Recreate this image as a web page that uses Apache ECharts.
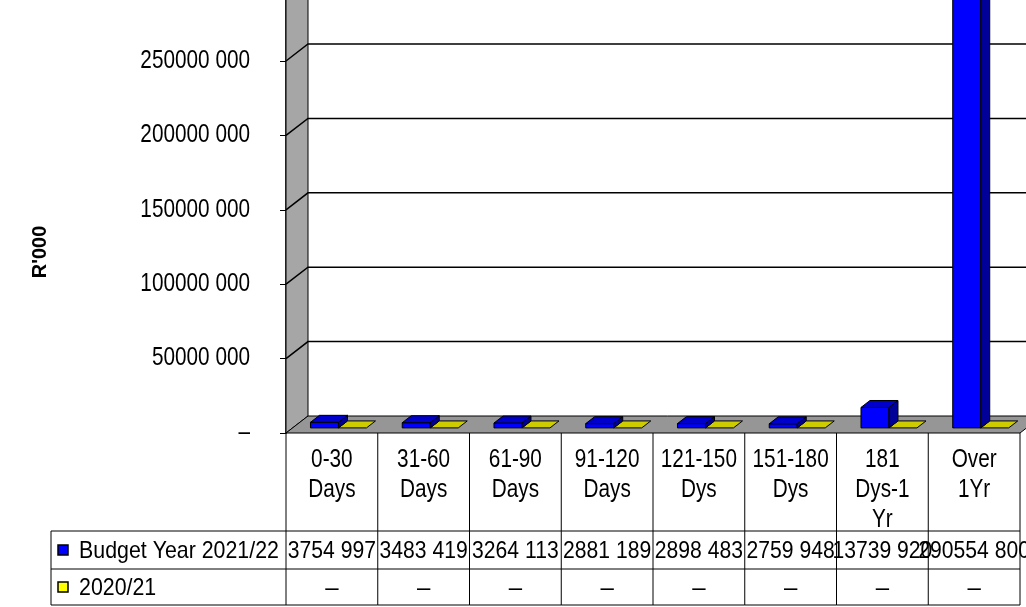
<!DOCTYPE html>
<html>
<head>
<meta charset="utf-8">
<script src="https://cdn.jsdelivr.net/npm/echarts@6/dist/echarts.min.js"></script>
<style>
  html, body { margin: 0; padding: 0; background: #fff; }
  #chart { width: 1026px; height: 607px; }
</style>
</head>
<body>
<div id="chart"></div>
<script>
// Debtor age analysis (R'000)
const categories = ['0-30\nDays', '31-60\nDays', '61-90\nDays', '91-120\nDays', '121-150\nDys', '151-180\nDys', '181\nDys-1\nYr', 'Over\n1Yr'];
const budget2122 = [3754997, 3483419, 3264113, 2881189, 2898483, 2759948, 13739920, 290554800];
const year2021 = [0, 0, 0, 0, 0, 0, 0, 0];
const seriesNames = ['Budget Year 2021/22', '2020/21'];
const yTicks = [0, 50000000, 100000000, 150000000, 200000000, 250000000, 300000000];
const yTickLabels = ['–', '50000 000', '100000 000', '150000 000', '200000 000', '250000 000', ''];
const yTitle = "R'000";

const FONT = '"Liberation Sans", Arial, sans-serif';
const NARROW = 0.83;              // horizontal squeeze for the condensed lettering
const DX = 22, DY = -17;          // depth offset of the back wall
const T0 = 0.3, T1 = 0.71;        // depth slice occupied by the bars
const BAR_W = 28;
const ROW1 = 98, ROW2 = 136, ROW_END = 172;   // table rows below the floor edge
const TABLE_LEFT = 51;

const faceColors = [
  { front: '#0000ff', top: '#0000cc', side: '#000099', key: '#0000ff' },
  { front: '#ffff00', top: '#cccc00', side: '#999900', key: '#ffff00' }
];

function fmt(v) {
  if (!v) return '–';
  return Math.floor(v / 1000) + ' ' + String(v % 1000).padStart(3, '0');
}

// condensed text element anchored at (x, y)
function textEl(text, x, y, align, vAlign, size, scale, extra) {
  return {
    type: 'text', x: x, y: y, scaleX: scale,
    style: Object.assign({ text: text, x: 0, y: 0, align: align, verticalAlign: vAlign,
      font: size + 'px ' + FONT, fill: '#000' }, extra || {})
  };
}

function barRenderer(s) {
  return function (params, api) {
    const i = api.value(0), v = api.value(1);
    const base = api.coord([i, 0]);
    const top = api.coord([i, v]);
    const ox = DX * T0, oy = DY * T0;
    const dx = DX * (T1 - T0), dy = DY * (T1 - T0);
    const x0 = base[0] - BAR_W + s * BAR_W + ox;
    const x1 = x0 + BAR_W;
    const yb = base[1] + oy, yt = top[1] + oy;
    const c = faceColors[s];
    const stroke = { stroke: '#000', lineWidth: 1 };
    const children = [];
    if (yb - yt > 0.5) {
      children.push({ type: 'rect', shape: { x: x0, y: yt, width: BAR_W, height: yb - yt },
        style: Object.assign({ fill: c.front }, stroke) });
      children.push({ type: 'polygon', shape: { points: [[x1, yt], [x1 + dx, yt + dy], [x1 + dx, yb + dy], [x1, yb]] },
        style: Object.assign({ fill: c.side }, stroke) });
    }
    children.push({ type: 'polygon', shape: { points: [[x0, yt], [x1, yt], [x1 + dx, yt + dy], [x0 + dx, yt + dy]] },
      style: Object.assign({ fill: c.top }, stroke) });
    return { type: 'group', children: children };
  };
}

function frameRenderer(params, api) {
  const cs = params.coordSys;
  const gx = cs.x, gw = cs.width, gb = cs.y + cs.height;
  const children = [];
  // side wall
  children.push({ type: 'polygon', shape: { points: [[gx, gb], [gx + DX, gb + DY], [gx + DX, -60], [gx, -60]] },
    style: { fill: '#a6a6a6', stroke: '#000', lineWidth: 1 } });
  // grid lines on the walls, value labels on the front edge
  yTicks.forEach(function (t, k) {
    const y = api.coord([0, t])[1];
    if (t !== 0) {
      children.push({ type: 'polyline', shape: { points: [[gx, y], [gx + DX, y + DY], [gx + gw + DX + 10, y + DY]] },
        style: { stroke: '#000', lineWidth: 1.5, fill: null } });
    }
    if (yTickLabels[k]) children.push(textEl(yTickLabels[k], gx - 36, y, 'right', 'middle', 25, NARROW));
  });
  // floor
  children.push({ type: 'polygon', shape: { points: [[gx, gb], [gx + DX, gb + DY], [gx + gw + DX, gb + DY], [gx + gw, gb]] },
    style: { fill: '#969696', stroke: '#000', lineWidth: 1 } });
  // legend cells of the data table
  const lineStyle = { stroke: '#000', lineWidth: 1 };
  [ROW1, ROW2, ROW_END].forEach(function (r) {
    children.push({ type: 'line', shape: { x1: TABLE_LEFT, y1: gb + r, x2: gx, y2: gb + r }, style: lineStyle });
  });
  children.push({ type: 'line', shape: { x1: TABLE_LEFT, y1: gb + ROW1, x2: TABLE_LEFT, y2: gb + ROW_END }, style: lineStyle });
  [0, 1].forEach(function (s) {
    const cy = gb + (s === 0 ? (ROW1 + ROW2) / 2 : (ROW2 + ROW_END) / 2);
    children.push({ type: 'rect', shape: { x: 58, y: cy - 5, width: 10, height: 10 },
      style: { fill: faceColors[s].key, stroke: '#000', lineWidth: 1.5 } });
    children.push(textEl(seriesNames[s], 79, cy + 1, 'left', 'middle', 24, 0.89));
  });
  return { type: 'group', children: children };
}

function tableRenderer(params, api) {
  const i = api.value(0);
  const cs = params.coordSys;
  const gb = cs.y + cs.height;
  const cx = api.coord([i, 0])[0];
  const bw = api.size([1, 0])[0];
  const left = cx - bw / 2, right = cx + bw / 2;
  const lineStyle = { stroke: '#000', lineWidth: 1 };
  const children = [];
  children.push({ type: 'line', shape: { x1: left, y1: gb, x2: left, y2: gb + ROW_END }, style: lineStyle });
  if (i === categories.length - 1) {
    children.push({ type: 'line', shape: { x1: right, y1: gb, x2: right, y2: gb + ROW_END }, style: lineStyle });
  }
  [ROW1, ROW2, ROW_END].forEach(function (r) {
    children.push({ type: 'line', shape: { x1: left, y1: gb + r, x2: right, y2: gb + r }, style: lineStyle });
  });
  // category heading
  children.push(textEl(categories[i], cx, gb + 12, 'center', 'top', 25, NARROW, { lineHeight: 30 }));
  // values
  children.push(textEl(fmt(budget2122[i]), cx, gb + (ROW1 + ROW2) / 2 + 1, 'center', 'middle', 24, 0.88));
  children.push(textEl(fmt(year2021[i]), cx, gb + (ROW2 + ROW_END) / 2 + 1, 'center', 'middle', 24, 1));
  return { type: 'group', children: children };
}

const chart = echarts.init(document.getElementById('chart'), null, { renderer: 'canvas' });
chart.setOption({
  animation: false,
  backgroundColor: '#fff',
  grid: { left: 286, right: 6, top: -13.4, bottom: 174, containLabel: false, outerBoundsMode: 'none' },
  xAxis: {
    type: 'category',
    data: categories,
    axisLine: { show: false },
    axisTick: { show: false },
    axisLabel: { show: false }
  },
  yAxis: {
    type: 'value',
    min: 0, max: 300000000, interval: 50000000,
    splitLine: { show: false },
    axisLine: { show: true, lineStyle: { color: '#000', width: 1.5 } },
    axisTick: { show: true, length: 6, lineStyle: { color: '#000' } },
    axisLabel: { show: false }
  },
  graphic: [{
    type: 'text', x: 40, y: 252, rotation: Math.PI / 2,
    style: { text: yTitle, font: 'bold 20px "Liberation Sans", Arial, sans-serif', fill: '#000', align: 'center', verticalAlign: 'middle' }
  }],
  series: [
    { type: 'custom', name: 'frame', z: 1, clip: false, silent: true, renderItem: frameRenderer, data: [[0]] },
    { type: 'custom', name: 'table', z: 2, clip: false, silent: true, renderItem: tableRenderer,
      data: categories.map(function (c, i) { return [i]; }) },
    { type: 'custom', name: seriesNames[1], z: 3, clip: false, renderItem: barRenderer(1),
      data: year2021.map(function (v, i) { return [i, v]; }) },
    { type: 'custom', name: seriesNames[0], z: 4, clip: false, renderItem: barRenderer(0),
      data: budget2122.map(function (v, i) { return [i, v]; }) }
  ]
});
</script>
</body>
</html>
